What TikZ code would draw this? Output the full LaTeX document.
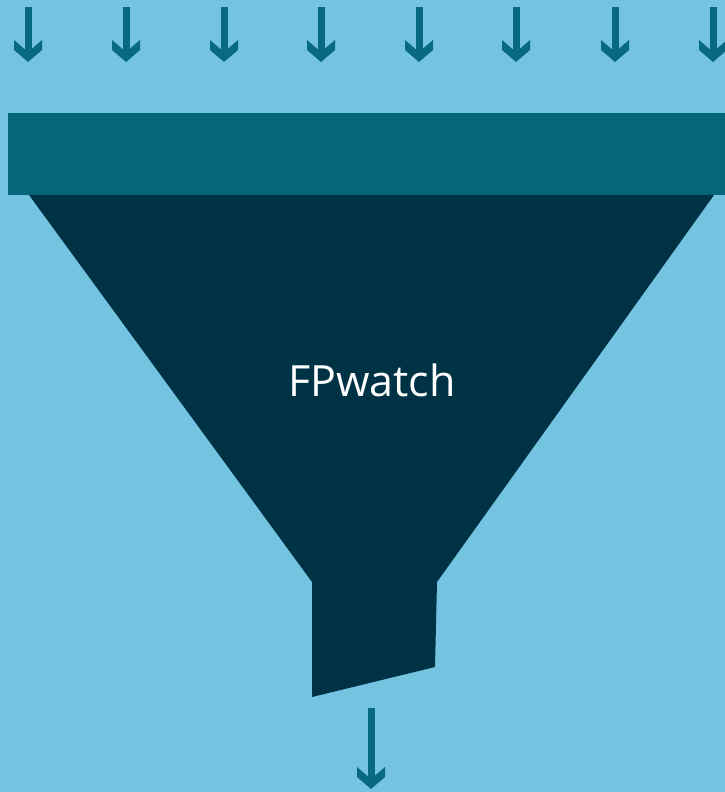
\documentclass[tikz,border=0pt]{standalone}
\usepackage{fontspec}
\setmainfont{Open Sans}
\definecolor{bgblue}{HTML}{74C3E1}
\definecolor{barteal}{HTML}{05657A}
\definecolor{funneldark}{HTML}{003246}
\definecolor{arrowteal}{HTML}{086A80}
\tikzset{
  arrowhead/.pic={
    \fill[arrowteal] (-14,-22) -- (0,-10) -- (14,-22) -- (14,-12) -- (0,0) -- (-14,-12) -- cycle;
  },
  label/.style={text=white,font=\fontsize{43}{50}\selectfont,inner sep=0pt}
}
\begin{document}
\begin{tikzpicture}[x=1pt,y=-1pt]
\fill[bgblue] (0,0) rectangle (725,792);
\useasboundingbox (0,0) rectangle (725,792);
% top arrows
\foreach \xx in {28,126,224,321,419,516,615,713}{
  \fill[arrowteal] (\xx-3.5,7) rectangle (\xx+3.5,54);
  \pic at (\xx,62) {arrowhead};
}
% bar
\fill[barteal] (8,113) rectangle (725,195);
% funnel
\fill[funneldark] (29,195) -- (714,195) -- (437,582) -- (435,667) -- (312,697) -- (312,582) -- cycle;
\node[label] (title) at (372,380) {FPwatch};
% bottom arrow
\fill[arrowteal] (367.5,708) rectangle (374.5,780);
\pic at (371,789) {arrowhead};
\end{tikzpicture}
\end{document}
